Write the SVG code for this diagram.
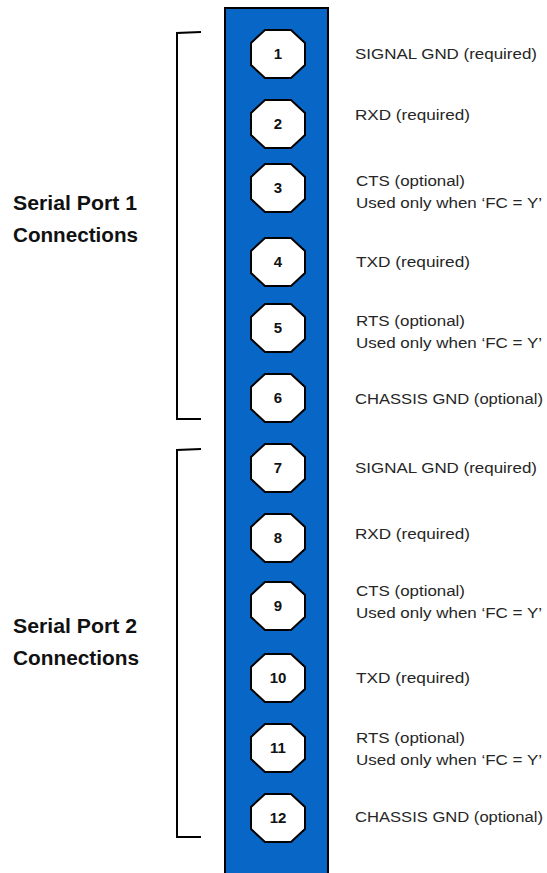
<svg xmlns="http://www.w3.org/2000/svg" width="547" height="873" viewBox="0 0 547 873">
<defs>
<style>
.lbl{font-family:"Liberation Sans",Arial,sans-serif;font-size:15.5px;fill:#262626}
.grp{font-family:"Liberation Sans",Arial,sans-serif;font-size:21px;font-weight:bold;fill:#111}
.num{font-family:"Liberation Sans",Arial,sans-serif;font-size:15px;font-weight:bold;fill:#111;text-anchor:middle}
.pin{fill:#fff;stroke:#000;stroke-width:2}
.br{fill:none;stroke:#000;stroke-width:2}
</style>
<polygon id="oct" class="pin" points="-13,-24 13,-24 27,-11 27,11 13,24 -13,24 -27,11 -27,-11"/>
</defs>
<rect x="225" y="8" width="103" height="870" fill="#0866C6" stroke="#000" stroke-width="2"/>
<g id="connectors">
<path class="br" d="M201,32 L177,33 L177,419 L201,419"/>
<path class="br" d="M201,449 L177,450 L177,837 L201,837"/>
</g>
<g id="group1"><text class="grp" x="13" y="210" textLength="124" lengthAdjust="spacingAndGlyphs">Serial Port 1</text><text class="grp" x="13" y="242" textLength="125" lengthAdjust="spacingAndGlyphs">Connections</text></g>
<g id="group2"><text class="grp" x="13" y="633" textLength="124" lengthAdjust="spacingAndGlyphs">Serial Port 2</text><text class="grp" x="13" y="665" textLength="126" lengthAdjust="spacingAndGlyphs">Connections</text></g>
<g id="pin1"><use href="#oct" x="278" y="54"/><text class="num" x="278" y="59">1</text><text class="lbl" x="355" y="59" textLength="182" lengthAdjust="spacingAndGlyphs">SIGNAL GND (required)</text></g>
<g id="pin2"><use href="#oct" x="278" y="124"/><text class="num" x="278" y="129">2</text><text class="lbl" x="355" y="120" textLength="115" lengthAdjust="spacingAndGlyphs">RXD (required)</text></g>
<g id="pin3"><use href="#oct" x="278" y="188"/><text class="num" x="278" y="193">3</text><text class="lbl" x="356" y="186" textLength="109" lengthAdjust="spacingAndGlyphs">CTS (optional)</text><text class="lbl" x="356" y="208" textLength="186" lengthAdjust="spacingAndGlyphs">Used only when ‘FC = Y’</text></g>
<g id="pin4"><use href="#oct" x="278" y="262"/><text class="num" x="278" y="267">4</text><text class="lbl" x="356" y="267" textLength="114" lengthAdjust="spacingAndGlyphs">TXD (required)</text></g>
<g id="pin5"><use href="#oct" x="278" y="328"/><text class="num" x="278" y="333">5</text><text class="lbl" x="356" y="326" textLength="109" lengthAdjust="spacingAndGlyphs">RTS (optional)</text><text class="lbl" x="356" y="348" textLength="186" lengthAdjust="spacingAndGlyphs">Used only when ‘FC = Y’</text></g>
<g id="pin6"><use href="#oct" x="278" y="398"/><text class="num" x="278" y="403">6</text><text class="lbl" x="355" y="404" textLength="188" lengthAdjust="spacingAndGlyphs">CHASSIS GND (optional)</text></g>
<g id="pin7"><use href="#oct" x="278" y="468"/><text class="num" x="278" y="473">7</text><text class="lbl" x="355" y="473" textLength="182" lengthAdjust="spacingAndGlyphs">SIGNAL GND (required)</text></g>
<g id="pin8"><use href="#oct" x="278" y="538"/><text class="num" x="278" y="543">8</text><text class="lbl" x="355" y="539" textLength="115" lengthAdjust="spacingAndGlyphs">RXD (required)</text></g>
<g id="pin9"><use href="#oct" x="278" y="606"/><text class="num" x="278" y="611">9</text><text class="lbl" x="356" y="596" textLength="109" lengthAdjust="spacingAndGlyphs">CTS (optional)</text><text class="lbl" x="356" y="618" textLength="186" lengthAdjust="spacingAndGlyphs">Used only when ‘FC = Y’</text></g>
<g id="pin10"><use href="#oct" x="278" y="678"/><text class="num" x="278" y="683">10</text><text class="lbl" x="356" y="683" textLength="114" lengthAdjust="spacingAndGlyphs">TXD (required)</text></g>
<g id="pin11"><use href="#oct" x="278" y="748"/><text class="num" x="278" y="753">11</text><text class="lbl" x="356" y="743" textLength="109" lengthAdjust="spacingAndGlyphs">RTS (optional)</text><text class="lbl" x="356" y="765" textLength="186" lengthAdjust="spacingAndGlyphs">Used only when ‘FC = Y’</text></g>
<g id="pin12"><use href="#oct" x="278" y="818"/><text class="num" x="278" y="823">12</text><text class="lbl" x="355" y="822" textLength="188" lengthAdjust="spacingAndGlyphs">CHASSIS GND (optional)</text></g>
</svg>
